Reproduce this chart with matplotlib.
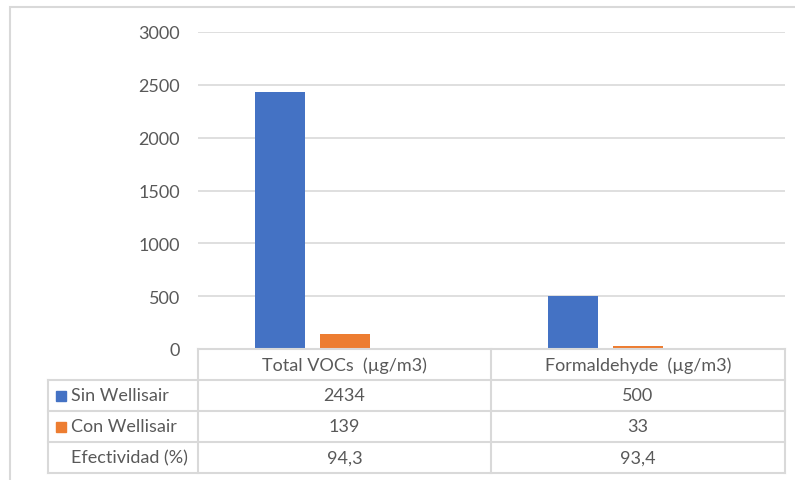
import matplotlib
matplotlib.use("Agg")
import matplotlib.pyplot as plt
from matplotlib.patches import Rectangle
from matplotlib.lines import Line2D

categories = ["Total VOCs  (µg/m3)", "Formaldehyde  (µg/m3)"]
series_names = ["Sin Wellisair", "Con Wellisair", "Efectividad (%)"]
sin_values = [2434, 500]
con_values = [139, 33]
efect_values = [94.3, 93.4]
efect_labels = ["94,3", "93,4"]
yticks = [0, 500, 1000, 1500, 2000, 2500, 3000]

W, H = 795, 481
plt.rcParams['font.family'] = ['Lato', 'DejaVu Sans']
fig = plt.figure(figsize=(W / 100, H / 100), dpi=100)

def fx(px):
    return px / W

def fy(py):
    return 1 - py / H

txt_color = "#595959"
grid_color = "#d9d9d9"
blue = "#4472c4"
orange = "#ed7d31"
fs = 13

# outer chart border
fig.add_artist(Rectangle((fx(10), fy(490)), fx(800) - fx(10), fy(8) - fy(490),
                         transform=fig.transFigure, fill=False, ec="#d9d9d9", lw=1.5))

x0, x1, ytop, ybot = 198, 785, 33, 350
ax = fig.add_axes([fx(x0), fy(ybot), fx(x1) - fx(x0), fy(ytop) - fy(ybot)])
ax.set_xlim(0, len(categories))
ax.set_ylim(0, 3000)
ax.set_yticks(yticks)
ax.set_yticklabels([str(t) for t in yticks], color=txt_color, fontsize=fs)
ax.tick_params(axis='y', length=0, pad=13)
ax.set_xticks([])
for s in ax.spines.values():
    s.set_visible(False)
ax.grid(axis='y', color=grid_color, lw=1.2)
ax.set_axisbelow(True)

bw = 50 / 293.5
centers = [i + 0.5 for i in range(len(categories))]
step = 65 / 293.5
ax.bar([c - step for c in centers], sin_values, width=bw, color=blue, zorder=3)
ax.bar(centers, con_values, width=bw, color=orange, zorder=3)
ax.bar([c + step for c in centers], efect_values, width=bw, color="none", zorder=3)

# data table
tl = 48
col_edges = [198, 491, 785]
row_edges = [350, 381, 412, 443, 474]
lc = "#d9d9d9"
lw = 1.5
fig.add_artist(Line2D([fx(col_edges[0]), fx(col_edges[-1])], [fy(row_edges[0])] * 2,
                      transform=fig.transFigure, color=lc, lw=lw))
for r in row_edges[1:]:
    fig.add_artist(Line2D([fx(tl), fx(col_edges[-1])], [fy(r)] * 2,
                          transform=fig.transFigure, color=lc, lw=lw))
fig.add_artist(Line2D([fx(tl)] * 2, [fy(row_edges[1]), fy(row_edges[-1])],
                      transform=fig.transFigure, color=lc, lw=lw))
for c in col_edges:
    fig.add_artist(Line2D([fx(c)] * 2, [fy(row_edges[0]), fy(row_edges[-1])],
                          transform=fig.transFigure, color=lc, lw=lw))

for i, cat in enumerate(categories):
    cx = (col_edges[i] + col_edges[i + 1]) / 2
    fig.text(fx(cx), fy((row_edges[0] + row_edges[1]) / 2), cat, ha='center', va='center',
             color=txt_color, fontsize=fs)
    fig.text(fx(cx), fy((row_edges[1] + row_edges[2]) / 2), str(sin_values[i]), ha='center',
             va='center', color=txt_color, fontsize=fs)
    fig.text(fx(cx), fy((row_edges[2] + row_edges[3]) / 2), str(con_values[i]), ha='center',
             va='center', color=txt_color, fontsize=fs)
    fig.text(fx(cx), fy((row_edges[3] + row_edges[4]) / 2), efect_labels[i], ha='center',
             va='center', color=txt_color, fontsize=fs)

swatch_colors = [blue, orange, None]
for j, name in enumerate(series_names):
    yc = (row_edges[j + 1] + row_edges[j + 2]) / 2
    if swatch_colors[j]:
        fig.add_artist(Rectangle((fx(56), fy(yc + 5)), fx(10), fy(yc - 5) - fy(yc + 5),
                                 transform=fig.transFigure, color=swatch_colors[j]))
    fig.text(fx(71), fy(yc), name, ha='left', va='center', color=txt_color, fontsize=fs)

fig.savefig("out.png", dpi=100)
